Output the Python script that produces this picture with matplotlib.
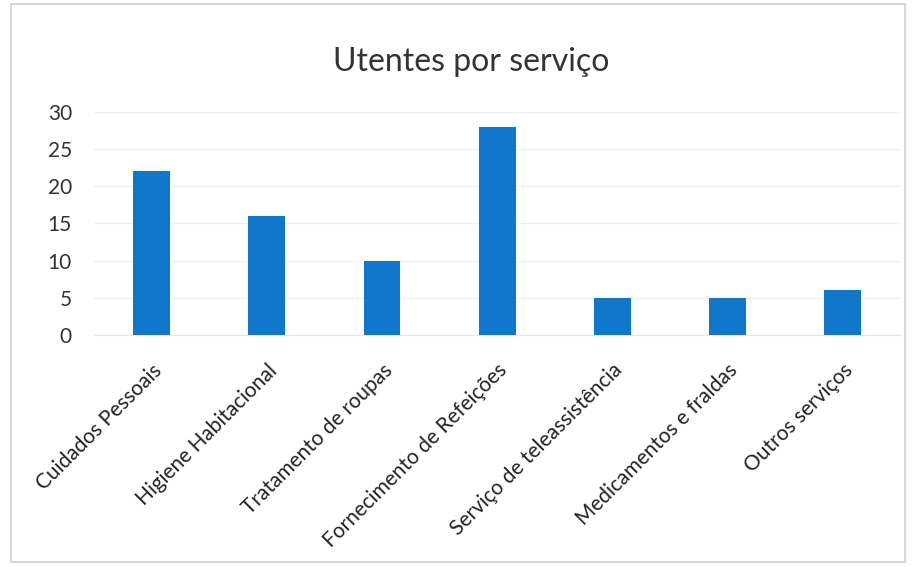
import matplotlib.pyplot as plt
from matplotlib.patches import Rectangle

categorias = ['Cuidados Pessoais', 'Higiene Habitacional', 'Tratamento de roupas',
              'Fornecimento de Refeições', 'Serviço de teleassistência',
              'Medicamentos e fraldas', 'Outros serviços']
utentes = [22, 16, 10, 28, 5, 5, 6]
yticks = [0, 5, 10, 15, 20, 25, 30]

plt.rcParams['font.family'] = ['Lato', 'DejaVu Sans']

fig = plt.figure(figsize=(9.14, 5.67), dpi=100)
ax = fig.add_axes([0.103, 0.409, 0.882, 0.394])

x = range(len(categorias))
ax.bar(x, utentes, width=0.32, color='#0f78cc', zorder=3)

ax.set_xlim(-0.5, len(categorias) - 0.5)
ax.set_ylim(0, 30)
ax.set_yticks(yticks)
ax.set_yticklabels([str(v) for v in yticks], fontsize=15, color='#333333')
ax.set_xticks(list(x))
ax.set_xticklabels(categorias, rotation=45, ha='right', rotation_mode='anchor',
                   fontsize=15, color='#222222')
ax.tick_params(axis='both', length=0)
ax.tick_params(axis='y', pad=16)
ax.tick_params(axis='x', pad=18)
ax.grid(axis='y', color='#f0f0f0', linewidth=1, zorder=0)
for s in ['top', 'right', 'left']:
    ax.spines[s].set_visible(False)
ax.spines['bottom'].set_color('#e6e6e6')

fig.text(0.515, 0.89, 'Utentes por serviço', ha='center', va='center',
         fontsize=23, color='#333333')

fig.patches.append(Rectangle((0.012, 0.008), 0.978, 0.985, transform=fig.transFigure,
                             fill=False, edgecolor='#d0d0d0', linewidth=1.2))

fig.savefig('out.png', dpi=100)
